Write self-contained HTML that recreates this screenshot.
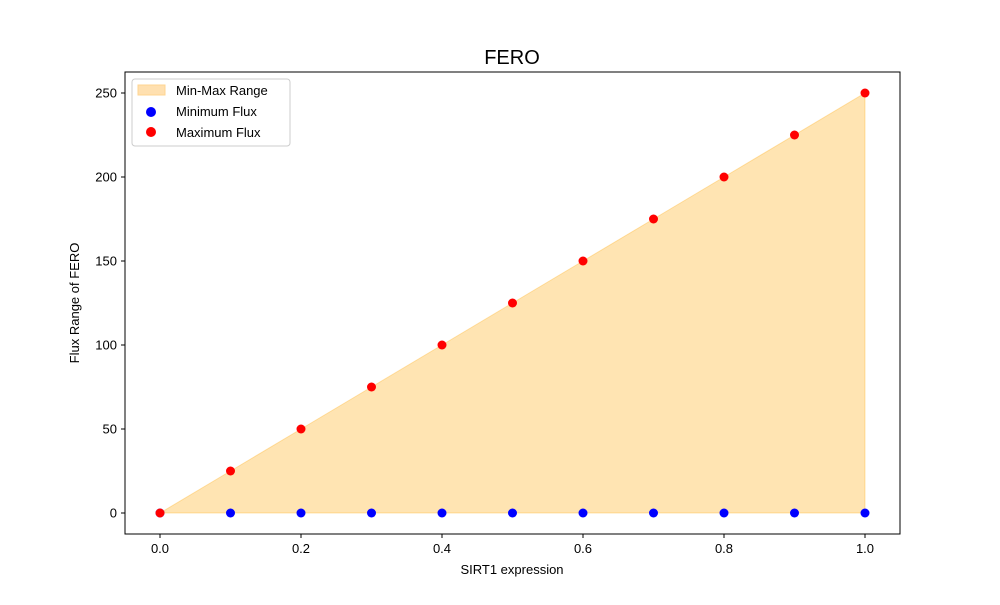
<!DOCTYPE html>
<html><head><meta charset="utf-8"><style>body{margin:0;background:#fff}svg{font-family:"Liberation Sans","DejaVu Sans",sans-serif}</style></head>
<body>
<svg id="chart" width="1000" height="600" xmlns="http://www.w3.org/2000/svg">
<rect width="1000" height="600" fill="#fff"/>
<text x="512" y="64" font-size="20" text-anchor="middle">FERO</text>
<g id="plot"></g>
<rect x="125" y="72" width="775" height="462" fill="none" stroke="#000" stroke-width="1"/>
<text x="512" y="574" font-size="13" text-anchor="middle">SIRT1 expression</text>
<text x="79" y="303" font-size="13" text-anchor="middle" transform="rotate(-90 79 303)">Flux Range of FERO</text>
<g>
<rect x="132" y="79" width="158" height="67" rx="3" fill="#fff" fill-opacity="0.8" stroke="#ccc"/>
<rect x="138" y="85" width="27" height="10" fill="#ffe0b0" stroke="#ffd590"/>
<text x="176" y="95" font-size="13">Min-Max Range</text>
<circle cx="151" cy="112" r="5" fill="#0000ff"/>
<text x="176" y="116" font-size="13">Minimum Flux</text>
<circle cx="151" cy="132" r="5" fill="#ff0000"/>
<text x="176" y="137" font-size="13">Maximum Flux</text>
</g>
</svg>
<script>
const xValues=[0,0.1,0.2,0.3,0.4,0.5,0.6,0.7,0.8,0.9,1.0];
const minFlux=[0,0,0,0,0,0,0,0,0,0,0];
const maxFlux=[0,25,50,75,100,125,150,175,200,225,250];
const xTicks=[0,0.2,0.4,0.6,0.8,1.0];
const xTickLabels=["0.0","0.2","0.4","0.6","0.8","1.0"];
const yTicks=[0,50,100,150,200,250];
const NS="http://www.w3.org/2000/svg";
const X=v=>160+v*705;
const Y=v=>513-v*1.68;
const g=document.getElementById('plot');
function mk(t,a){const e=document.createElementNS(NS,t);for(const k in a)e.setAttribute(k,a[k]);g.appendChild(e);return e;}
let d="M"+xValues.map((x,i)=>X(x)+","+Y(maxFlux[i])).join(" L");
for(let i=xValues.length-1;i>=0;i--)d+=" L"+X(xValues[i])+","+Y(minFlux[i]);
const area=mk('path',{d:d+"Z",fill:"#ffa500","fill-opacity":"0.3",stroke:"#ffa500","stroke-opacity":"0.3"});


xValues.forEach((x,i)=>{const c=mk('circle',{cx:X(x),cy:Y(minFlux[i]),r:4.5,fill:"#0000ff"});

});
xValues.forEach((x,i)=>{const c=mk('circle',{cx:X(x),cy:Y(maxFlux[i]),r:4.5,fill:"#ff0000"});

});
xTicks.forEach((t,i)=>{mk('line',{x1:X(t),x2:X(t),y1:534,y2:538,stroke:"#000"});
const tx=mk('text',{x:X(t),y:553,"font-size":"13","text-anchor":"middle"});tx.textContent=xTickLabels[i];

});
yTicks.forEach(t=>{mk('line',{x1:121,x2:125,y1:Y(t),y2:Y(t),stroke:"#000"});
const tx=mk('text',{x:117,y:Y(t)+4.5,"font-size":"13","text-anchor":"end"});tx.textContent=t;

});
</script>
</body></html>
